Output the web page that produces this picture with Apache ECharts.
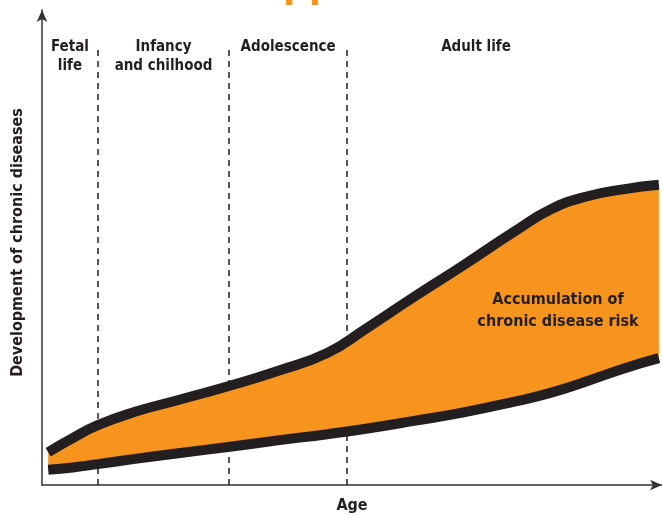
<!DOCTYPE html>
<html>
<head>
<meta charset="utf-8">
<script src="https://cdn.jsdelivr.net/npm/echarts@6/dist/echarts.min.js"></script>
<style>
  html, body { margin: 0; padding: 0; background: #fff; }
  #chart { width: 662px; height: 514px; }
</style>
</head>
<body>
<div id="chart"></div>
<script>
// age axis 0..100, risk axis 0..100 (schematic units)
var ages = [1, 5, 9, 15, 22, 30, 38, 46, 52, 60, 68, 76, 82, 88, 94, 99.5];
var riskUpper = [6.9, 9.9, 12.6, 15.4, 17.9, 20.8, 24.0, 27.8, 32.7, 39.6, 46.3, 53.2, 58.0, 60.8, 62.3, 63.2];
var riskLower = [3.2, 3.7, 4.4, 5.5, 6.7, 8.0, 9.4, 10.7, 11.8, 13.5, 15.3, 17.5, 19.4, 21.9, 24.6, 26.7];

var phaseNames = ['Fetal\nlife', 'Infancy\nand chilhood', 'Adolescence', 'Adult life'];
var phaseEdges = [0, 9, 30.2, 49.2, 90.8];
var dividers = [9, 30.2, 49.2];

var FONT = "'Liberation Sans Narrow', 'DejaVu Sans Condensed', sans-serif";
var INK = '#231f20';
var ORANGE = '#f7941d';

var chart = echarts.init(document.getElementById('chart'));

var pairs = function (ys) {
    return ages.map(function (a, i) { return [a, ys[i]]; });
};

var phaseAreas = phaseNames.map(function (name, i) {
    return [
        {name: name, coord: [phaseEdges[i], 96]},
        {coord: [phaseEdges[i + 1], 88]}
    ];
});

// orange band between the two curves
var renderBand = function (params, api) {
    var top = ages.map(function (a, i) { return api.coord([a, riskUpper[i]]); });
    var bottom = ages.map(function (a, i) { return api.coord([a, riskLower[i]]); }).reverse();
    return {
        type: 'polygon',
        shape: {points: top.concat(bottom)},
        style: {fill: ORANGE}
    };
};

var curve = function (name, ys) {
    return {
        name: name,
        type: 'line',
        data: pairs(ys),
        smooth: true,
        showSymbol: false,
        z: 8,
        lineStyle: {color: INK, width: 10, cap: 'butt'}
    };
};

chart.setOption({
    animation: false,
    grid: {left: 42, right: 0, top: 10, bottom: 29, outerBoundsMode: 'none'},
    xAxis: {
        type: 'value',
        min: 0,
        max: 100,
        name: 'Age',
        nameLocation: 'middle',
        nameGap: 13,
        nameTextStyle: {fontFamily: FONT, fontWeight: 'bold', fontSize: 16, color: INK, verticalAlign: 'top'},
        axisLine: {lineStyle: {color: '#333', width: 1.5}, symbol: ['none', 'arrow'], symbolSize: [8, 12]},
        axisTick: {show: false},
        axisLabel: {show: false},
        splitLine: {show: false}
    },
    yAxis: {
        type: 'value',
        min: 0,
        max: 100,
        name: 'Development of chronic diseases',
        nameLocation: 'middle',
        nameGap: 16,
        nameTextStyle: {fontFamily: FONT, fontWeight: 'bold', fontSize: 16, color: INK, padding: [0, 0, 0, 10]},
        axisLine: {lineStyle: {color: '#333', width: 1.5}, symbol: ['none', 'arrow'], symbolSize: [8, 12]},
        axisTick: {show: false},
        axisLabel: {show: false},
        splitLine: {show: false}
    },
    graphic: [
        {   // cut-off title above the chart
            type: 'text', left: 283, top: -34, z: 10,
            style: {text: 'pp', font: 'bold 40px ' + FONT, fill: ORANGE}
        },
        {
            type: 'text', x: 558, y: 289, z: 20,
            style: {
                text: 'Accumulation of\nchronic disease risk',
                font: 'bold 16px ' + FONT, fill: INK, align: 'center',
                lineHeight: 22
            }
        }
    ],
    series: [
        {
            name: 'phases',
            type: 'line',
            data: [],
            z: 1,
            markLine: {
                silent: true,
                symbol: 'none',
                label: {show: false},
                lineStyle: {color: INK, type: [6, 5], width: 1.5},
                data: dividers.map(function (d) {
                    return [{coord: [d, 0]}, {coord: [d, 92]}];
                })
            },
            markArea: {
                silent: true,
                itemStyle: {color: 'rgba(0,0,0,0)'},
                label: {
                    position: 'insideTop', distance: 9,
                    fontFamily: FONT, fontWeight: 'bold', fontSize: 15, lineHeight: 19,
                    color: INK, align: 'center'
                },
                data: phaseAreas
            }
        },
        {
            name: 'band',
            type: 'custom',
            coordinateSystem: 'cartesian2d',
            data: [[0, 0]],
            z: 6,
            silent: true,
            renderItem: renderBand
        },
        curve('lower', riskLower),
        curve('upper', riskUpper)
    ]
});
</script>
</body>
</html>
